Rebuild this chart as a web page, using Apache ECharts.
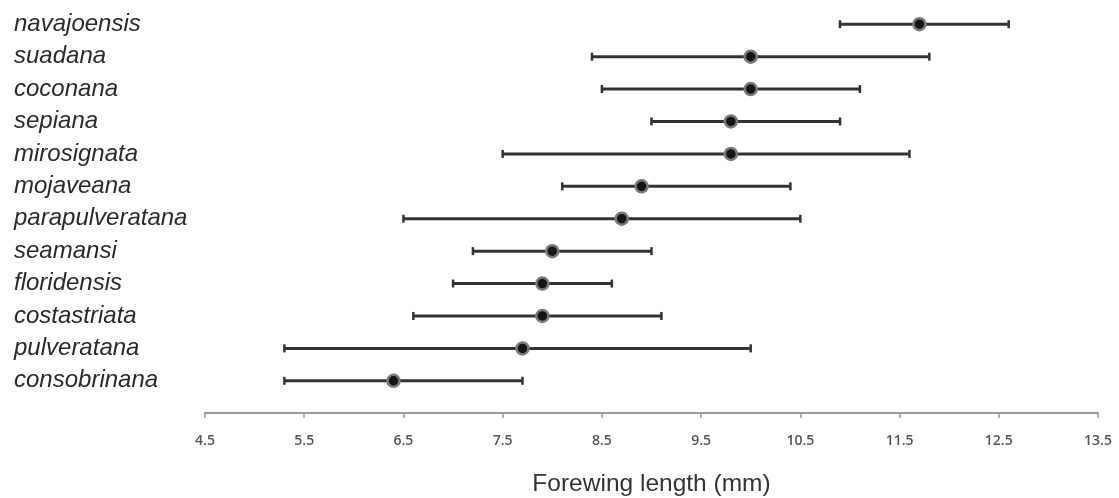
<!DOCTYPE html>
<html><head><meta charset="utf-8">
<script src="https://cdn.jsdelivr.net/npm/echarts@6/dist/echarts.min.js"></script>
<style>html,body{margin:0;padding:0;background:#fff}#c{width:1119px;height:498px}</style>
</head><body><div id="c"></div>
<script>
// categories listed bottom to top
const species = ['consobrinana','pulveratana','costastriata','floridensis','seamansi','parapulveratana','mojaveana','mirosignata','sepiana','coconana','suadana','navajoensis'];
const meanLen = [6.4, 7.7, 7.9, 7.9, 8.0, 8.7, 8.9, 9.8, 9.8, 10.0, 10.0, 11.7];
const minLen  = [5.3, 5.3, 6.6, 7.0, 7.2, 6.5, 8.1, 7.5, 9.0, 8.5, 8.4, 10.9];
const maxLen  = [7.7, 10.0, 9.1, 8.6, 9.0, 10.5, 10.4, 11.6, 10.9, 11.1, 11.8, 12.6];
const xTicks = ['4.5','5.5','6.5','7.5','8.5','9.5','10.5','11.5','12.5','13.5'];

const chart = echarts.init(document.getElementById('c'));
const rangeData = species.map((s,i)=>[i, minLen[i], maxLen[i]]);
chart.setOption({
  animation:false,
  grid:{left:205, right:21, top:8, bottom:101, containLabel:false, outerBoundsMode:'none'},
  xAxis:{type:'value', min:4.5, max:13.5, interval:1, offset:16,
    axisLine:{show:true, lineStyle:{color:'#9a9a9a', width:2}},
    axisTick:{show:true, length:5, lineStyle:{color:'#9a9a9a', width:1.5}},
    splitLine:{show:false},
    axisLabel:{margin:21, color:'#555', fontSize:14, fontWeight:600, fontFamily:'Open Sans',
      formatter:v=>{const t=xTicks.find(s=>Math.abs(parseFloat(s)-v)<1e-6);return t||'';}},
    name:'Forewing length (mm)', nameLocation:'middle', nameGap:59,
    nameTextStyle:{fontSize:24.5, color:'#333', fontFamily:'Liberation Sans'}},
  yAxis:{type:'category', data:species, boundaryGap:true,
    axisLine:{show:false}, axisTick:{show:false}, splitLine:{show:false},
    axisLabel:{interval:0, align:'left', margin:191, fontSize:24, fontStyle:'italic', color:'#2a2a2a', fontFamily:'Liberation Sans', hideOverlap:false}},
  series:[
    {type:'custom', data:rangeData, encode:{y:0, x:[1,2]},
      renderItem:(params, api)=>{
        const y = api.value(0);
        const p1 = api.coord([api.value(1), y]);
        const p2 = api.coord([api.value(2), y]);
        const st = {stroke:'#333', lineWidth:3};
        const cs = {stroke:'#333', lineWidth:2.5};
        return {type:'group', children:[
          {type:'line', shape:{x1:p1[0], y1:p1[1], x2:p2[0], y2:p2[1]}, style:st},
          {type:'line', shape:{x1:p1[0], y1:p1[1]-4, x2:p1[0], y2:p1[1]+4}, style:cs},
          {type:'line', shape:{x1:p2[0], y1:p2[1]-4, x2:p2[0], y2:p2[1]+4}, style:cs}
        ]};
      }, z:2},
    {type:'scatter', data:meanLen.map((v,i)=>[v, i]), symbol:'circle', symbolSize:12,
      itemStyle:{color:'#151515', borderColor:'#7a7a7a', borderWidth:2.5, opacity:1}, z:3}
  ]
});
</script></body></html>
